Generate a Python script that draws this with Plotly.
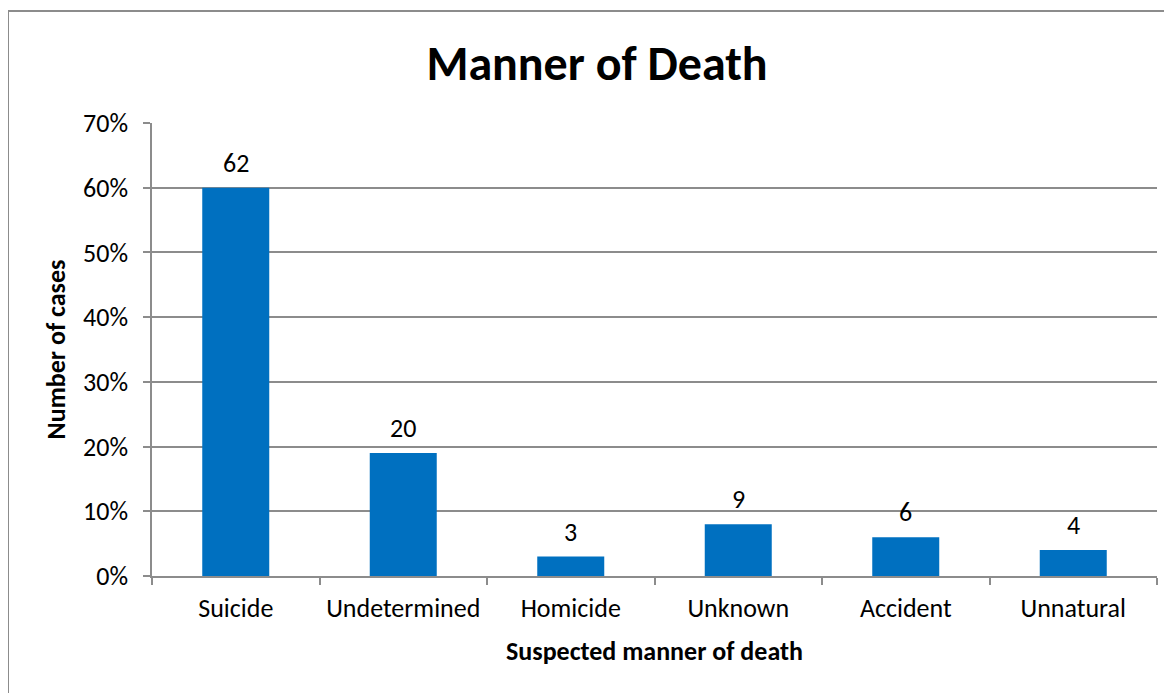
import plotly.graph_objects as go

categories = ["Suicide", "Undetermined", "Homicide", "Unknown", "Accident", "Unnatural"]
percent_values = [0.60, 0.19, 0.03, 0.08, 0.06, 0.04]
case_counts = [62, 20, 3, 9, 6, 4]
y_tick_values = [0, 0.1, 0.2, 0.3, 0.4, 0.5, 0.6, 0.7]

FONT = "Calibri, Carlito, Lato, sans-serif"
GRID = "#8c8c8c"
FS = 26

fig = go.Figure()
fig.add_trace(go.Bar(
    x=categories, y=percent_values,
    marker=dict(color="#0070C0", line=dict(width=0)),
    width=0.4, hoverinfo="skip",
))

for c, v, n in zip(categories, percent_values, case_counts):
    fig.add_annotation(x=c, y=v, text=str(n), showarrow=False,
                       yanchor="middle", yshift=25,
                       font=dict(family=FONT, size=FS, color="black"))

fig.update_layout(
    width=1172, height=693,
    margin=dict(l=144, r=23, t=115, b=125),
    paper_bgcolor="white", plot_bgcolor="white",
    font=dict(family=FONT, size=FS, color="black"),
    showlegend=False,
    title=dict(text="<b>Manner of Death</b>", x=589/1172, xanchor="center",
               y=1-55/693, yanchor="middle",
               font=dict(family=FONT, size=48, color="black")),
    xaxis=dict(
        type="category", showgrid=False, showline=True, linecolor=GRID, linewidth=1.5,
        ticks="outside", ticklen=7, tickcolor=GRID, tickwidth=1.5, tickson="boundaries",
        ticklabelstandoff=8,
        tickfont=dict(family=FONT, size=FS, color="black"),
        title=dict(text="<b>Suspected manner of death</b>", standoff=19,
                   font=dict(family=FONT, size=FS, color="black")),
    ),
    yaxis=dict(
        range=[0, 0.70], tickvals=y_tick_values, tickformat=".0%",
        showgrid=True, gridcolor=GRID, gridwidth=1.5,
        showline=True, linecolor=GRID, linewidth=1.5, zeroline=False,
        ticks="outside", ticklen=7, tickcolor=GRID, tickwidth=1.5,
        ticklabelstandoff=10,
        tickfont=dict(family=FONT, size=FS, color="black"),
        title=dict(text="<b>Number of cases</b>", standoff=10,
                   font=dict(family=FONT, size=FS, color="black")),
    ),
)

fig.add_shape(type="rect", xref="paper", yref="paper",
              x0=-144/1005, x1=1.2, y0=-0.5, y1=1+112/453,
              line=dict(color="#8c8c8c", width=2), fillcolor="rgba(0,0,0,0)",
              layer="below")

fig.write_html("out.html")
